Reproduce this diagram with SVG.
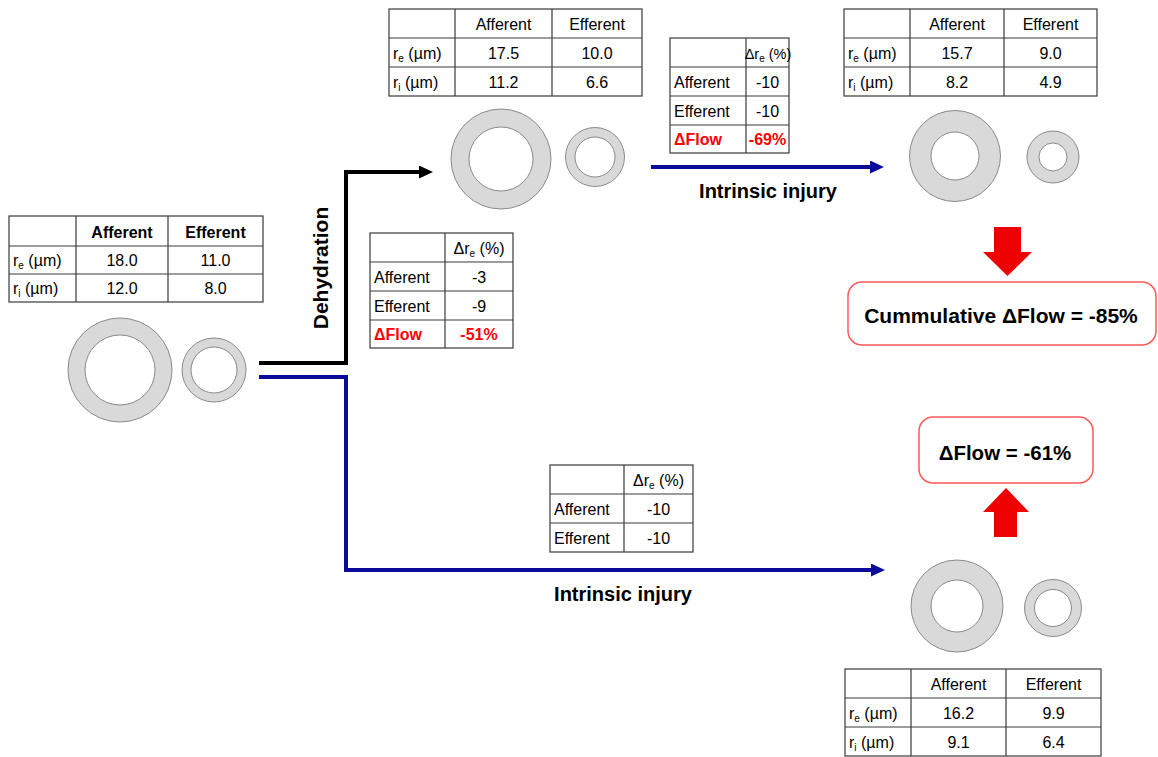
<svg xmlns="http://www.w3.org/2000/svg" width="1158" height="757" viewBox="0 0 1158 757">
<style>
  text { font-family: "Liberation Sans", Arial, sans-serif; fill: #000; }
  .cell { fill: none; stroke: #3a3a3a; stroke-width: 1.2; }
  .grid { stroke: #3a3a3a; stroke-width: 1.2; }
  .t { font-size: 16px; }
  .c { text-anchor: middle; }
  .b { font-weight: bold; }
  .red { fill: #ff0000; font-weight: bold; }
  .sub { font-size: 10px; }
  .ring { fill: #d9d9d9; stroke: #7f7f7f; stroke-width: 0.9; }
  .hole { fill: #ffffff; stroke: #7f7f7f; stroke-width: 0.9; }
  .lbl { font-size: 20px; font-weight: bold; text-anchor: middle; }
  .box { fill: #ffffff; stroke: #ff5a5a; stroke-width: 1.5; }
  .block { fill: #ee0000; }
  .blk { fill: none; stroke: #000; stroke-width: 4; }
  .blu { fill: none; stroke: #0a0a9c; stroke-width: 4; }
</style>
<defs>
  <marker id="ahBlack" markerUnits="userSpaceOnUse" markerWidth="14" markerHeight="13" viewBox="0 0 14 13" refX="0" refY="6.5" orient="auto">
    <path d="M0,0 L14,6.5 L0,13 Z" fill="#000"/>
  </marker>
  <marker id="ahBlue" markerUnits="userSpaceOnUse" markerWidth="14" markerHeight="13" viewBox="0 0 14 13" refX="0" refY="6.5" orient="auto">
    <path d="M0,0 L14,6.5 L0,13 Z" fill="#0a0a9c"/>
  </marker>
</defs>

<!-- Connectors -->
<g id="connectors">
  <path class="blk" d="M259,363 H346 V172 H419" marker-end="url(#ahBlack)"/>
  <path class="blu" d="M651,167 H870" marker-end="url(#ahBlue)"/>
  <path class="blu" d="M259,377 H346 V570 H871" marker-end="url(#ahBlue)"/>
  <text class="lbl" transform="translate(328,268) rotate(-90)" style="font-size:21px">Dehydration</text>
  <text class="lbl" x="768" y="198">Intrinsic injury</text>
  <text class="lbl" x="623" y="601">Intrinsic injury</text>
</g>

<!-- Initial state -->
<g id="initial">
  <rect class="cell" x="9" y="216" width="254" height="86"/>
  <line class="grid" x1="76" y1="216" x2="76" y2="302"/>
  <line class="grid" x1="168" y1="216" x2="168" y2="302"/>
  <line class="grid" x1="9" y1="246" x2="263" y2="246"/>
  <line class="grid" x1="9" y1="274" x2="263" y2="274"/>
  <text class="t c b" x="122" y="238">Afferent</text>
  <text class="t c b" x="215.5" y="238">Efferent</text>
  <text class="t" x="13" y="266">r<tspan class="sub" dy="3">e</tspan><tspan dy="-3"> (µm)</tspan></text>
  <text class="t c" x="122" y="266">18.0</text>
  <text class="t c" x="215.5" y="266">11.0</text>
  <text class="t" x="13" y="294">r<tspan class="sub" dy="3">i</tspan><tspan dy="-3"> (µm)</tspan></text>
  <text class="t c" x="122" y="294">12.0</text>
  <text class="t c" x="215.5" y="294">8.0</text>
  <circle class="ring" cx="120" cy="370" r="52"/>
  <circle class="hole" cx="120" cy="370" r="35"/>
  <circle class="ring" cx="214" cy="370" r="32"/>
  <circle class="hole" cx="214" cy="370" r="23"/>
</g>

<!-- After dehydration -->
<g id="dehydrated">
  <rect class="cell" x="389" y="9" width="253" height="87"/>
  <line class="grid" x1="455" y1="9" x2="455" y2="96"/>
  <line class="grid" x1="552" y1="9" x2="552" y2="96"/>
  <line class="grid" x1="389" y1="38" x2="642" y2="38"/>
  <line class="grid" x1="389" y1="67" x2="642" y2="67"/>
  <text class="t c" x="503.5" y="30">Afferent</text>
  <text class="t c" x="597" y="30">Efferent</text>
  <text class="t" x="393" y="59">r<tspan class="sub" dy="3">e</tspan><tspan dy="-3"> (µm)</tspan></text>
  <text class="t c" x="503.5" y="59">17.5</text>
  <text class="t c" x="597" y="59">10.0</text>
  <text class="t" x="393" y="88">r<tspan class="sub" dy="3">i</tspan><tspan dy="-3"> (µm)</tspan></text>
  <text class="t c" x="503.5" y="88">11.2</text>
  <text class="t c" x="597" y="88">6.6</text>
  <circle class="ring" cx="501" cy="159" r="50"/>
  <circle class="hole" cx="501" cy="159" r="32"/>
  <circle class="ring" cx="595" cy="157" r="29.5"/>
  <circle class="hole" cx="595" cy="157" r="20"/>
</g>

<!-- Dehydration delta table -->
<g id="delta-dehydration">
  <rect class="cell" x="370" y="233" width="143" height="115"/>
  <line class="grid" x1="445" y1="233" x2="445" y2="348"/>
  <line class="grid" x1="370" y1="262" x2="513" y2="262"/>
  <line class="grid" x1="370" y1="291" x2="513" y2="291"/>
  <line class="grid" x1="370" y1="320" x2="513" y2="320"/>
  <text class="t c" x="479" y="254">Δr<tspan class="sub" dy="3">e</tspan><tspan dy="-3"> (%)</tspan></text>
  <text class="t" x="374" y="283">Afferent</text>
  <text class="t c" x="479" y="283">-3</text>
  <text class="t" x="374" y="312">Efferent</text>
  <text class="t c" x="479" y="312">-9</text>
  <text class="t red" x="374" y="340">ΔFlow</text>
  <text class="t c red" x="479" y="340">-51%</text>
</g>

<!-- Top intrinsic delta table -->
<g id="delta-intrinsic-top">
  <rect class="cell" x="670" y="38" width="119" height="115"/>
  <line class="grid" x1="746" y1="38" x2="746" y2="153"/>
  <line class="grid" x1="670" y1="67" x2="789" y2="67"/>
  <line class="grid" x1="670" y1="96" x2="789" y2="96"/>
  <line class="grid" x1="670" y1="125" x2="789" y2="125"/>
  <text class="t c" x="768" y="59" style="font-size:14.5px">Δr<tspan class="sub" dy="3">e</tspan><tspan dy="-3"> (%)</tspan></text>
  <text class="t" x="674" y="88">Afferent</text>
  <text class="t c" x="767.5" y="88">-10</text>
  <text class="t" x="674" y="117">Efferent</text>
  <text class="t c" x="767.5" y="117">-10</text>
  <text class="t red" x="674" y="145">ΔFlow</text>
  <text class="t c red" x="767.5" y="145">-69%</text>
</g>

<!-- Dehydration + intrinsic injury -->
<g id="combined">
  <rect class="cell" x="844" y="9" width="253" height="87"/>
  <line class="grid" x1="910" y1="9" x2="910" y2="96"/>
  <line class="grid" x1="1004" y1="9" x2="1004" y2="96"/>
  <line class="grid" x1="844" y1="38" x2="1097" y2="38"/>
  <line class="grid" x1="844" y1="67" x2="1097" y2="67"/>
  <text class="t c" x="957" y="30">Afferent</text>
  <text class="t c" x="1050.5" y="30">Efferent</text>
  <text class="t" x="848" y="59">r<tspan class="sub" dy="3">e</tspan><tspan dy="-3"> (µm)</tspan></text>
  <text class="t c" x="957" y="59">15.7</text>
  <text class="t c" x="1050.5" y="59">9.0</text>
  <text class="t" x="848" y="88">r<tspan class="sub" dy="3">i</tspan><tspan dy="-3"> (µm)</tspan></text>
  <text class="t c" x="957" y="88">8.2</text>
  <text class="t c" x="1050.5" y="88">4.9</text>
  <circle class="ring" cx="955" cy="156" r="45.5"/>
  <circle class="hole" cx="955" cy="156" r="24"/>
  <circle class="ring" cx="1053" cy="157" r="26"/>
  <circle class="hole" cx="1053" cy="157" r="14"/>
</g>

<!-- Cumulative result -->
<g id="cumulative">
  <polygon class="block" points="994,227 1021,227 1021,252 1032,252 1007.5,276 983,252 994,252"/>
  <rect class="box" x="848" y="282" width="308" height="63" rx="14"/>
  <text class="lbl" x="1001" y="323" style="font-size:21px">Cummulative ΔFlow = -85%</text>
</g>

<!-- Bottom intrinsic delta table -->
<g id="delta-intrinsic-bottom">
  <rect class="cell" x="550" y="465" width="143" height="87"/>
  <line class="grid" x1="624" y1="465" x2="624" y2="552"/>
  <line class="grid" x1="550" y1="494" x2="693" y2="494"/>
  <line class="grid" x1="550" y1="523" x2="693" y2="523"/>
  <text class="t c" x="658.5" y="486">Δr<tspan class="sub" dy="3">e</tspan><tspan dy="-3"> (%)</tspan></text>
  <text class="t" x="554" y="515">Afferent</text>
  <text class="t c" x="658.5" y="515">-10</text>
  <text class="t" x="554" y="544">Efferent</text>
  <text class="t c" x="658.5" y="544">-10</text>
</g>

<!-- Intrinsic injury only -->
<g id="intrinsic-only">
  <circle class="ring" cx="957" cy="606" r="46"/>
  <circle class="hole" cx="957" cy="606" r="26"/>
  <circle class="ring" cx="1053" cy="608" r="28.5"/>
  <circle class="hole" cx="1053" cy="608" r="18.5"/>
  <rect class="cell" x="845" y="669" width="256" height="87"/>
  <line class="grid" x1="911" y1="669" x2="911" y2="756"/>
  <line class="grid" x1="1006" y1="669" x2="1006" y2="756"/>
  <line class="grid" x1="845" y1="698" x2="1101" y2="698"/>
  <line class="grid" x1="845" y1="727" x2="1101" y2="727"/>
  <text class="t c" x="958.5" y="690">Afferent</text>
  <text class="t c" x="1053.5" y="690">Efferent</text>
  <text class="t" x="849" y="719">r<tspan class="sub" dy="3">e</tspan><tspan dy="-3"> (µm)</tspan></text>
  <text class="t c" x="958.5" y="719">16.2</text>
  <text class="t c" x="1053.5" y="719">9.9</text>
  <text class="t" x="849" y="748">r<tspan class="sub" dy="3">i</tspan><tspan dy="-3"> (µm)</tspan></text>
  <text class="t c" x="958.5" y="748">9.1</text>
  <text class="t c" x="1053.5" y="748">6.4</text>
</g>

<!-- Intrinsic result -->
<g id="intrinsic-result">
  <rect class="box" x="919" y="417" width="174" height="66" rx="14"/>
  <text class="lbl" x="1005" y="460" style="font-size:20.5px">ΔFlow = -61%</text>
  <polygon class="block" points="1006,488 1029,512 1017,512 1017,537 994,537 994,512 983,512"/>
</g>
</svg>
